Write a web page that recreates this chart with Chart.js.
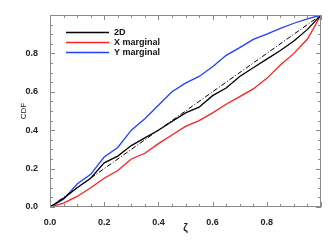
<!DOCTYPE html>
<html>
<head>
<meta charset="utf-8">
<script src="https://cdn.jsdelivr.net/npm/chart.js@4/dist/chart.umd.min.js"></script>
<style>
  body { margin: 0; background: #fff; }
  #wrap { width: 336px; height: 240px; }
</style>
</head>
<body>
<div id="wrap"><canvas id="cdf"></canvas></div>
<script>
// zeta grid and CDF values
var zeta = [0, 0.05, 0.10, 0.15, 0.20, 0.25, 0.30, 0.35, 0.40, 0.45, 0.50,
            0.55, 0.60, 0.65, 0.70, 0.75, 0.80, 0.85, 0.90, 0.95, 1.0];
var cdf2D = [0, 0.045, 0.10, 0.15, 0.23, 0.265, 0.32, 0.36, 0.40, 0.445, 0.49,
             0.52, 0.58, 0.62, 0.68, 0.725, 0.77, 0.815, 0.865, 0.925, 1.0];
var cdfX = [0, 0.02, 0.055, 0.10, 0.15, 0.19, 0.25, 0.28, 0.33, 0.375, 0.42,
            0.45, 0.49, 0.535, 0.575, 0.615, 0.67, 0.74, 0.80, 0.875, 1.0];
var cdfY = [0, 0.04, 0.12, 0.17, 0.26, 0.31, 0.40, 0.46, 0.53, 0.60, 0.645,
            0.68, 0.73, 0.79, 0.83, 0.873, 0.90, 0.93, 0.957, 0.98, 1.0];
var diag = [0, 1];
var labels = ["2D", "X marginal", "Y marginal"];
var colors = ["#000000", "#ff2020", "#2040ff"];

function pts(xs, ys) {
  return xs.map(function (x, i) { return { x: x, y: ys[i] }; });
}

var FONT = { family: "'Liberation Sans', Arial, sans-serif", size: 9, weight: "bold" };

// IDL-style box with inward ticks, plus a legend inside the plot
var boxPlugin = {
  id: "box",
  afterDatasetsDraw: function (chart) {
    var ctx = chart.ctx, a = chart.chartArea;
    var xs = chart.scales.x, ys = chart.scales.y;
    ctx.save();
    ctx.strokeStyle = "#8a8a8a";
    ctx.lineWidth = 1;
    ctx.strokeRect(a.left + 0.5, a.top + 0.5, a.right - a.left - 1, a.bottom - a.top - 1);
    ctx.beginPath();
    for (var i = 0; i <= 20; i++) {
      var v = i * 0.05;
      var len = (i % 4 === 0) ? 5 : 3;
      var px = Math.round(xs.getPixelForValue(v)) + 0.5;
      ctx.moveTo(px, a.bottom); ctx.lineTo(px, a.bottom - len);
      ctx.moveTo(px, a.top); ctx.lineTo(px, a.top + len);
      var py = Math.round(ys.getPixelForValue(v)) + 0.5;
      ctx.moveTo(a.left, py); ctx.lineTo(a.left + len, py);
      ctx.moveTo(a.right, py); ctx.lineTo(a.right - len, py);
    }
    ctx.stroke();

    // legend
    ctx.font = "bold 9px 'Liberation Sans', Arial, sans-serif";
    ctx.textBaseline = "middle";
    ctx.fillStyle = "#111";
    labels.forEach(function (lab, k) {
      var y = 32.5 + k * 10;
      ctx.strokeStyle = colors[k];
      ctx.lineWidth = 1.4;
      ctx.beginPath();
      ctx.moveTo(a.left + 16, y); ctx.lineTo(a.left + 59, y);
      ctx.stroke();
      ctx.fillText(lab, a.left + 64, y);
    });
    ctx.restore();
  }
};

function series(label, ys, color) {
  return {
    label: label,
    data: pts(zeta, ys),
    borderColor: color,
    borderWidth: 1.3,
    pointRadius: 0,
    tension: 0,
    fill: false
  };
}

new Chart(document.getElementById("cdf"), {
  type: "line",
  data: {
    datasets: [
      {
        label: "diagonal",
        data: pts(diag, diag),
        borderColor: "#000",
        borderWidth: 1,
        borderDash: [5, 2, 1, 2],
        pointRadius: 0,
        fill: false
      },
      series(labels[0], cdf2D, colors[0]),
      series(labels[1], cdfX, colors[1]),
      series(labels[2], cdfY, colors[2])
    ]
  },
  options: {
    responsive: true,
    maintainAspectRatio: false,
    animation: false,
    layout: { padding: { top: 15, right: 15, left: 0, bottom: 0 } },
    plugins: { legend: { display: false }, tooltip: { enabled: false } },
    scales: {
      x: {
        type: "linear",
        min: 0, max: 1,
        grid: { display: false },
        border: { display: false },
        ticks: {
          stepSize: 0.2, padding: 2, color: "#222", font: FONT, maxRotation: 0,
          callback: function (v) { return v > 0.99 ? "" : v.toFixed(1); }
        },
        title: { display: true, text: "ζ", color: "#222", font: { family: FONT.family, size: 10, weight: "bold" }, padding: { bottom: 6 } },
        afterFit: function (s) { s.height = 33; }
      },
      y: {
        type: "linear",
        min: 0, max: 1,
        grid: { display: false },
        border: { display: false },
        ticks: {
          stepSize: 0.2, padding: 4, color: "#222", font: FONT,
          callback: function (v) { return v > 0.99 ? "" : v.toFixed(1); }
        },
        title: { display: true, text: "CDF", color: "#222", font: { family: FONT.family, size: 8, weight: "normal" }, padding: { top: 19 } },
        afterFit: function (s) { s.width = 50; }
      }
    }
  },
  plugins: [boxPlugin]
});
</script>
</body>
</html>
